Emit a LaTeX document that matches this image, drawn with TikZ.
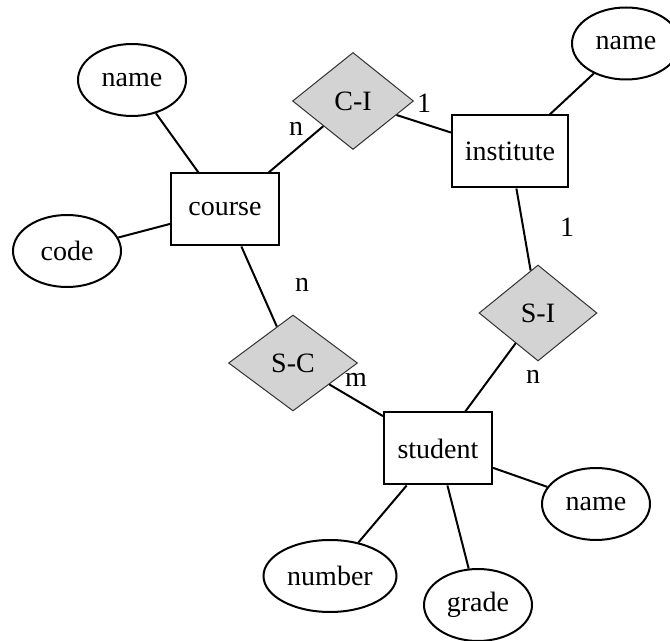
\documentclass[tikz,border=0pt]{standalone}
\usepackage{fontspec}
\setmainfont{Liberation Serif}
\usepackage{tikz}
\usetikzlibrary{positioning,shapes,arrows}
\definecolor{relfill}{HTML}{D3D3D3}

\begin{document}
\begin{tikzpicture}[x=0.5pt,y=-0.5pt,
    font=\fontsize{14}{16}\selectfont,
    ent/.style={%
      rectangle, draw=black, line width=1pt, fill=white,
      minimum width=54pt, minimum height=36pt, inner sep=2pt, align=center
    },
    attr/.style={%
      ellipse, draw=black, line width=1pt, fill=white,
      minimum width=54pt, minimum height=36pt, inner sep=1pt
    },
    rel/.style={%
      diamond, draw=black!80, line width=0.5pt, fill=relfill,
      inner sep=0pt, minimum width=60pt, minimum height=48pt
    },
    lbl/.style={%
      inner sep=0pt
    }
]
    \useasboundingbox (0,0) rectangle (670,641);

    \node[ent] (course)    at (225,209.5) {course};
    \node[ent, minimum width=58pt] (inst) at (510,151.5) {institute};
    \node[ent] (student)   at (438,448.5) {student};

    \node[rel, minimum width=60.5pt, minimum height=48.5pt] (ci) at (353,101) {C-I};
    \node[rel, minimum width=59pt] (si) at (538,313) {S-I};
    \node[rel, minimum width=64.5pt] (sc) at (293,363) {S-C};

    \node[attr] (cname)    at (132,80)    {name};
    \node[attr] (code)     at (67,251)    {code};
    \node[attr] (iname)    at (626,43.5)  {name};
    \node[attr] (sname)    at (596,504)   {name};
    \node[attr, minimum width=66.5pt] (number) at (330,576) {number};
    \node[attr] (grade)    at (478,605)   {grade};

    \node[lbl] (l1) at (296,129) {n};
    \node[lbl] (l2) at (424,103) {1};
    \node[lbl] (l3) at (567,227) {1};
    \node[lbl] (l4) at (302,285) {n};
    \node[lbl] (l5) at (356,380) {m};
    \node[lbl] (l6) at (533,377) {n};

    \path[draw, line width=1pt]
          (course)  -- (cname)
          (course)  -- (code)
          (course)  -- (ci)
          (ci)      -- (inst)
          (inst)    -- (iname)
          (inst)    -- (si)
          (course)  -- (sc)
          (sc)      -- (student)
          (si)      -- (student)
          (student) -- (sname)
          (student) -- (number)
          (student) -- (grade)
    ;

\end{tikzpicture}
\end{document}
